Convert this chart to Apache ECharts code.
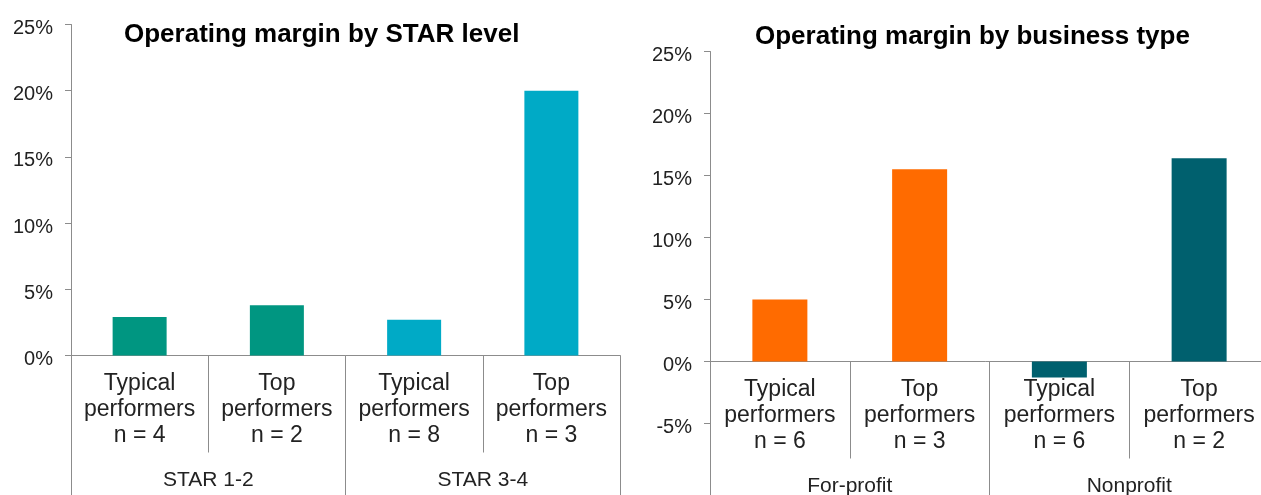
<!DOCTYPE html>
<html>
<head>
<meta charset="utf-8">
<title>Operating margin</title>
<script src="https://cdn.jsdelivr.net/npm/echarts@6/dist/echarts.min.js"></script>
<style>
  html, body { margin: 0; padding: 0; background: #fff; }
  #chart { width: 1261px; height: 495px; }
</style>
</head>
<body>
<div id="chart"></div>
<script>
// 左图：按 STAR 等级
const starCategories = [
  "Typical\nperformers\nn = 4",
  "Top\nperformers\nn = 2",
  "Typical\nperformers\nn = 8",
  "Top\nperformers\nn = 3",
];
const starGroups = ["STAR 1-2", "STAR 3-4"];
const starValues = [2.9, 3.8, 2.7, 20.0];

// 右图：按业务类型
const typeCategories = [
  "Typical\nperformers\nn = 6",
  "Top\nperformers\nn = 3",
  "Typical\nperformers\nn = 6",
  "Top\nperformers\nn = 2",
];
const typeGroups = ["For-profit", "Nonprofit"];
const typeValues = [5.0, 15.5, -1.3, 16.4];

const font = "'Liberation Sans', Arial, sans-serif";
const axisGray = "#8c8c8c";
const textColor = "#222";

// 分类轴（offset 把它放到 0% 那条线上）
function catAxis(gridIndex, data, offset) {
  return {
    type: "category",
    gridIndex,
    data,
    position: "bottom",
    offset,
    axisLine: { show: true, onZero: false, lineStyle: { color: axisGray, width: 1 } },
    axisTick: { show: true, interval: 0, length: 97, lineStyle: { color: axisGray } },
    axisLabel: {
      interval: 0,
      margin: 15,
      color: textColor,
      fontFamily: font,
      fontSize: 23,
      lineHeight: 26,
    },
  };
}
// 分组轴
function groupAxis(gridIndex, data, tickLen, margin) {
  return {
    type: "category",
    gridIndex,
    data,
    position: "bottom",
    axisLine: { show: false, onZero: false },
    axisTick: { show: true, interval: 0, length: tickLen, lineStyle: { color: axisGray } },
    axisLabel: {
      interval: 0,
      margin,
      color: textColor,
      fontFamily: font,
      fontSize: 21,
      lineHeight: 24,
    },
  };
}
function valAxis(gridIndex, min, max) {
  return {
    type: "value",
    gridIndex,
    min,
    max,
    interval: 5,
    splitLine: { show: false },
    axisLine: { show: true, lineStyle: { color: axisGray, width: 1 } },
    axisTick: { show: true, length: 6, lineStyle: { color: axisGray } },
    axisLabel: {
      formatter: "{v|{value}%}",
      margin: 18,
      rich: {
        v: {
          color: textColor,
          fontFamily: font,
          fontSize: 20,
          padding: [8, 0, 0, 0],
        },
      },
    },
  };
}

const option = {
  animation: false,
  title: [
    {
      text: "Operating margin by STAR level",
      left: 124,
      top: 22,
      padding: 0,
      textStyle: { fontFamily: font, fontSize: 26, fontWeight: "bold", color: "#000" },
    },
    {
      text: "Operating margin by business type",
      left: 755,
      top: 24,
      padding: 0,
      textStyle: { fontFamily: font, fontSize: 26, fontWeight: "bold", color: "#000" },
    },
  ],
  grid: [
    { left: 71, top: 24.5, width: 549, height: 331, outerBoundsMode: "none", containLabel: false },
    { left: 710, top: 51.5, width: 559, height: 372, outerBoundsMode: "none", containLabel: false },
  ],
  xAxis: [
    catAxis(0, starCategories, 0),
    groupAxis(0, starGroups, 150, 113),
    catAxis(1, typeCategories, -62),
    groupAxis(1, typeGroups, 100, 51),
  ],
  yAxis: [valAxis(0, 0, 25), valAxis(1, -5, 25)],
  series: [
    {
      name: "STAR",
      type: "bar",
      xAxisIndex: 0,
      yAxisIndex: 0,
      data: starValues,
      barWidth: 54,
      itemStyle: {
        color: ({ dataIndex }) => (dataIndex < 2 ? "#009681" : "#00AAC6"),
      },
    },
    {
      name: "Business type",
      type: "bar",
      xAxisIndex: 2,
      yAxisIndex: 1,
      data: typeValues,
      barWidth: 55,
      itemStyle: {
        color: ({ dataIndex }) => (dataIndex < 2 ? "#FF6B00" : "#00606E"),
      },
    },
  ],
};

echarts.init(document.getElementById("chart")).setOption(option);
</script>
</body>
</html>
